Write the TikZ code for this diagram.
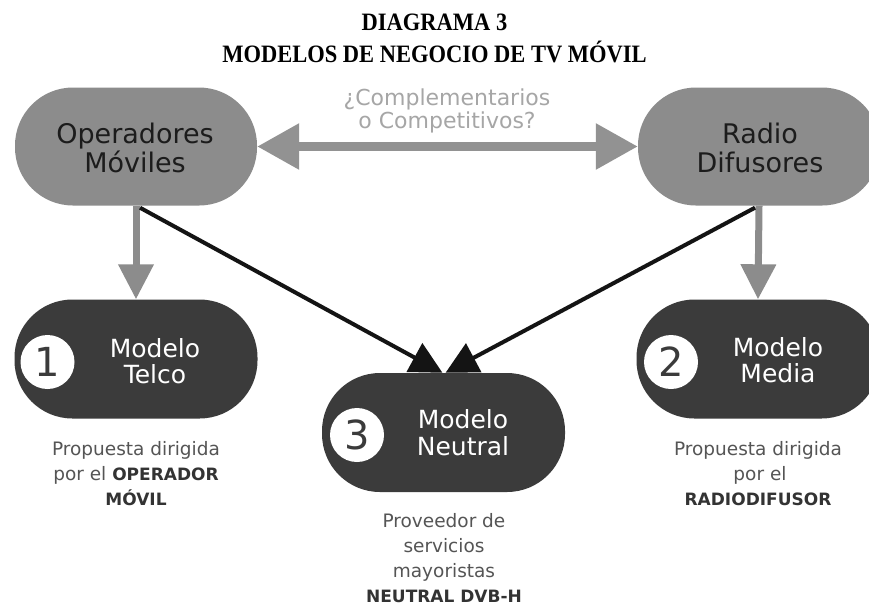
\documentclass[tikz,border=0pt]{standalone}
\usepackage{fontspec}
\setmainfont{DejaVu Sans}
\newfontfamily\titlefont[FakeStretch=0.9]{Liberation Serif}
\usetikzlibrary{arrows.meta}
\definecolor{pillgray}{HTML}{8C8C8C}
\definecolor{pilldark}{HTML}{3B3B3B}
\definecolor{arrgray}{HTML}{8C8C8C}
\definecolor{dblgray}{HTML}{929292}
\definecolor{lblgray}{HTML}{A6A6A6}
\definecolor{toptxt}{HTML}{1C1C1C}
\definecolor{desctxt}{HTML}{555555}
\definecolor{descbold}{HTML}{333333}
\definecolor{blackarr}{HTML}{141414}
\newcommand{\bt}[1]{{\fontsize{17pt}{20pt}\selectfont\bfseries\color{descbold}#1}}
\begin{document}
\begin{tikzpicture}[x=1pt,y=-1pt,
  titletext/.style={anchor=base,inner sep=0pt,font=\titlefont\bfseries\fontsize{25pt}{27pt}\selectfont,text=black},
  pilltop/.style={rectangle,rounded corners=58pt,minimum width=242pt,minimum height=118pt,inner sep=0pt,fill=pillgray},
  pillbot/.style={rectangle,rounded corners=58pt,minimum width=243pt,minimum height=119pt,inner sep=0pt,fill=pilldark},
  numcirc/.style={circle,fill=white,minimum size=54pt,inner sep=0pt,font=\fontsize{40pt}{42pt}\selectfont,text=pilldark},
  toptext/.style={anchor=base,inner sep=0pt,font=\fontsize{27pt}{29pt}\selectfont,text=toptxt},
  bottext/.style={anchor=base,inner sep=0pt,font=\fontsize{25pt}{27pt}\selectfont,text=white},
  lbltext/.style={anchor=base,inner sep=0pt,font=\fontsize{22pt}{24pt}\selectfont,text=lblgray},
  desc/.style={anchor=base,inner sep=0pt,font=\fontsize{18.5pt}{22pt}\selectfont,text=desctxt},
  grayarrow/.style={draw=arrgray,line width=7pt,-{Triangle[length=35pt,width=34pt]}},
  blackarrow/.style={draw=blackarr,line width=4pt,-{Triangle[length=32pt,width=32pt]}},
  dblarrow/.style={draw=dblgray,line width=9pt,{Triangle[length=42pt,width=44pt]}-{Triangle[length=42pt,width=44pt]}}
]
\useasboundingbox (0,0) rectangle (869,606);
\clip (0,0) rectangle (869,606);
\fill[white] (0,0) rectangle (869,606);

% title
\node[titletext] (title1) at (434.5,30) {DIAGRAMA 3};
\node[titletext] (title2) at (434.5,62) {MODELOS DE NEGOCIO DE TV MÓVIL};

% pills
\node[pilltop] (opm) at (136,146.5) {};
\node[pilltop] (rd) at (759,146.5) {};
\node[pillbot] (telco) at (136,359) {};
\node[pillbot] (media) at (758,359) {};
\node[pillbot] (neu) at (443.5,432.5) {};

% top texts
\node[toptext] (opm1) at (135,143) {Operadores};
\node[toptext] (opm2) at (135,172) {Móviles};
\node[toptext] (rd1) at (760,143) {Radio};
\node[toptext] (rd2) at (760,172) {Difusores};

% question label
\node[lbltext] (q1) at (447,105) {¿Complementarios};
\node[lbltext] (q2) at (447,128) {o Competitivos?};

% numbered circles
\node[numcirc] (c1) at (47.5,362) {1};
\node[numcirc] (c2) at (671,362) {2};
\node[numcirc] (c3) at (357,435) {3};

% model texts
\node[bottext] (m1a) at (155,357) {Modelo};
\node[bottext] (m1b) at (155,383) {Telco};
\node[bottext] (m2a) at (778,356) {Modelo};
\node[bottext] (m2b) at (778,382) {Media};
\node[bottext] (m3a) at (463,428) {Modelo};
\node[bottext] (m3b) at (463,455) {Neutral};

% descriptions
\node[desc] (d1a) at (136,455) {Propuesta dirigida};
\node[desc] (d1b) at (136,480) {por el \bt{OPERADOR}};
\node[desc] (d1c) at (136,505) {\bt{MÓVIL}};
\node[desc] (d2a) at (758,455) {Propuesta dirigida};
\node[desc] (d2b) at (760,480) {por el};
\node[desc] (d2c) at (758,505) {\bt{RADIODIFUSOR}};
\node[desc] (d3a) at (444,527) {Proveedor de};
\node[desc] (d3b) at (444,552) {servicios};
\node[desc] (d3c) at (444,577) {mayoristas};
\node[desc] (d3d) at (444,602) {\bt{NEUTRAL DVB-H}};

% connectors
\draw[dblarrow] (opm.east) -- (rd.west);
\draw[grayarrow] (opm.south) -- (telco.north);
\draw[grayarrow] (rd.south) -- (media.north);
\draw[blackarrow] ([xshift=4pt,yshift=-2pt]opm.south) -- ([xshift=-1pt]neu.north);
\draw[blackarrow] ([xshift=-4pt,yshift=-2pt]rd.south) -- ([xshift=2pt]neu.north);
\end{tikzpicture}
\end{document}
